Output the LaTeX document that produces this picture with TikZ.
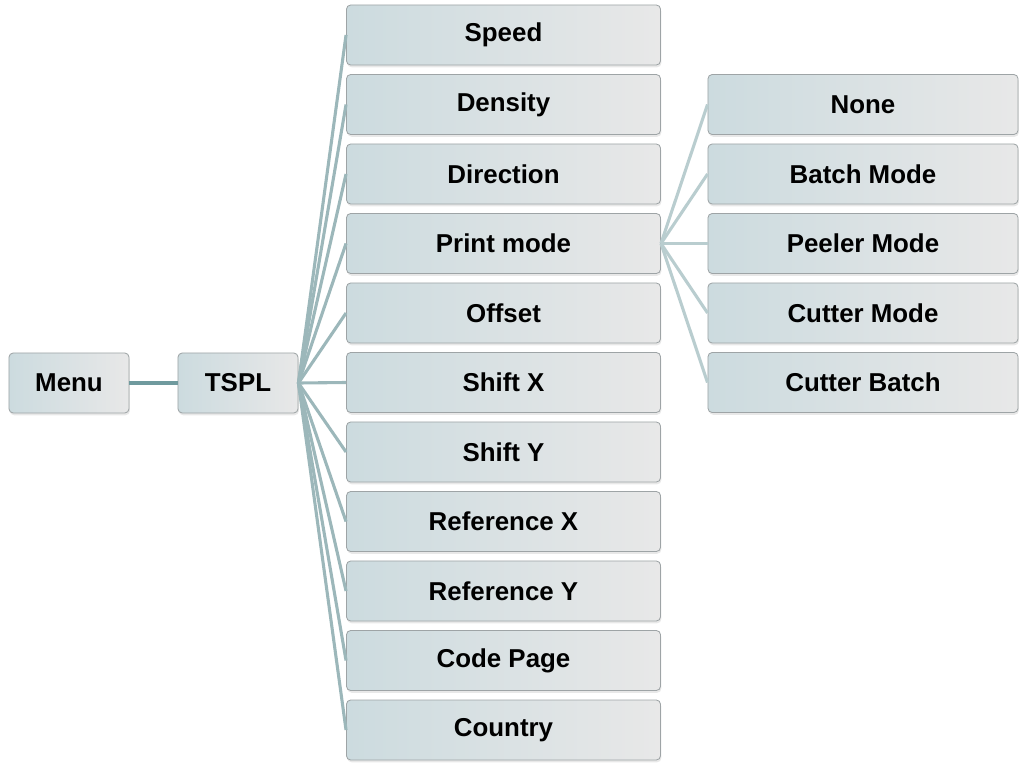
\documentclass[tikz,border=0pt]{standalone}
\usepackage{fontspec}
\setmainfont{Liberation Sans}
\usetikzlibrary{shadows}
\definecolor{boxleft}{HTML}{CCDBDF}
\definecolor{boxright}{HTML}{E8E8E8}
\definecolor{boxedge}{HTML}{9EA4A6}
\definecolor{rootline}{HTML}{6F9A9E}
\definecolor{fanline}{HTML}{9CB7BA}
\definecolor{subline}{HTML}{B9CDCF}

\tikzset{
  menubox/.style={draw=boxedge, line width=0.6pt, rounded corners=3pt,
    left color=boxleft, right color=boxright,
    drop shadow={opacity=0.18, shadow xshift=0.6pt, shadow yshift=-1.6pt},
    font=\bfseries\fontsize{18.4}{21}\selectfont, text=black,
    minimum height=1.5cm, inner sep=0pt},
  shortbox/.style={menubox, minimum width=3.0cm},
  longbox/.style={menubox, minimum width=7.85cm},
  widebox/.style={menubox, minimum width=7.75cm}
}

\begin{document}
\begin{tikzpicture}[x=0.025cm, y=-0.025cm]
    \useasboundingbox (0,0) rectangle (1020,763);

    % Root and language
    \node[shortbox] (menu) at (69,383) {Menu};
    \node[shortbox] (tspl) at (238,383) {TSPL};

    % TSPL settings
    \node[longbox] (speed)     at (503.5,35)  {Speed};
    \node[longbox] (density)   at (503.5,104.5) {Density};
    \node[longbox] (direction) at (503.5,174) {Direction};
    \node[longbox] (printmode) at (503.5,243.5) {Print mode};
    \node[longbox] (offset)    at (503.5,313) {Offset};
    \node[longbox] (shiftx)    at (503.5,382.5) {Shift X};
    \node[longbox] (shifty)    at (503.5,452) {Shift Y};
    \node[longbox] (refx)      at (503.5,521.5) {Reference X};
    \node[longbox] (refy)      at (503.5,591) {Reference Y};
    \node[longbox] (codepage)  at (503.5,660.5) {Code Page};
    \node[longbox] (country)   at (503.5,730) {Country};

    % Print mode options
    \node[widebox] (none)        at (863,104.5) {None};
    \node[widebox] (batchmode)   at (863,174) {Batch Mode};
    \node[widebox] (peelermode)  at (863,243.5) {Peeler Mode};
    \node[widebox] (cuttermode)  at (863,313) {Cutter Mode};
    \node[widebox] (cutterbatch) at (863,382.5) {Cutter Batch};

    % Connectors
    \draw[rootline, line width=2.2pt] (menu.east) -- (tspl.west);
    \foreach \leaf in {speed,density,direction,printmode,offset,shiftx,shifty,refx,refy,codepage,country}
      \draw[fanline, line width=2.2pt] (tspl.east) -- (\leaf.west);
    \foreach \leaf in {none,batchmode,peelermode,cuttermode,cutterbatch}
      \draw[subline, line width=2.2pt] (printmode.east) -- (\leaf.west);
\end{tikzpicture}
\end{document}
